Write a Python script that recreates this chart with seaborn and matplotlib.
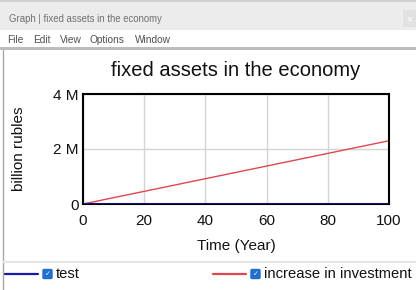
import matplotlib
matplotlib.use("Agg")
import matplotlib.pyplot as plt
import seaborn as sns
import pandas as pd
from matplotlib.patches import Rectangle, FancyBboxPatch
from matplotlib.lines import Line2D

# ---- data ----
time_years = [0, 20, 40, 60, 80, 100]
test_values = [0, 0, 0, 0, 0, 0]
increase_in_investment = [0, 0.46e6, 0.92e6, 1.38e6, 1.84e6, 2.30e6]
series_names = ["test", "increase in investment"]
series_colors = ["#1a1aa6", "#e0474c"]
x_ticks = [0, 20, 40, 60, 80, 100]
y_ticks = [0, 2e6, 4e6]
y_tick_labels = ["0", "2 M", "4 M"]
title = "fixed assets in the economy"
window_title = "Graph | fixed assets in the economy"
menu_items = ["File", "Edit", "View", "Options", "Window"]

df = pd.DataFrame({
    "Time": time_years * 2,
    "value": test_values + increase_in_investment,
    "series": [series_names[0]] * len(time_years) + [series_names[1]] * len(time_years),
})

sns.set_theme(style="white")
plt.rcParams["font.family"] = ["Liberation Sans", "DejaVu Sans"]

W, H = 416, 290
fig = plt.figure(figsize=(W / 100, H / 100), dpi=100)
fig.patch.set_facecolor("white")

def px(x, y):
    return x / W, 1 - y / H

# window chrome
fig.patches.append(Rectangle(px(0, 30), 1, 30 / H, transform=fig.transFigure,
                             facecolor="#ececec", edgecolor="none", zorder=0))
fig.patches.append(Rectangle(px(0, 2), 1, 2 / H, transform=fig.transFigure,
                             facecolor="#d0d0d0", edgecolor="none", zorder=0))
fig.patches.append(Rectangle(px(403, 27), 13 / W, 17 / H, transform=fig.transFigure,
                             facecolor="#e2e2e2", edgecolor="none", zorder=1))
fig.text(*px(409, 19), "×", fontsize=7, color="white", ha="center", va="center")
fig.text(*px(9, 19), window_title, fontsize=6.9, color="#707070", ha="left", va="center")
mx = [7, 33, 60, 90, 135]
for x, m in zip(mx, menu_items):
    fig.text(*px(x, 40), m, fontsize=7.3, color="#505050", ha="left", va="center")
# panel border
fig.patches.append(Rectangle(px(0, 50), 1, 3 / H, transform=fig.transFigure,
                             facecolor="#bdbdbd", edgecolor="none", zorder=0))
fig.lines.append(Line2D([3 / W, 3 / W], [1 - 50 / H, 0], transform=fig.transFigure,
                        color="#a8a8a8", lw=1))
fig.lines.append(Line2D([3 / W, 1], [1 - 262 / H, 1 - 262 / H], transform=fig.transFigure,
                        color="#e6e6e6", lw=1.5))

# axes
ax = fig.add_axes([83 / W, 1 - 204 / H, 306 / W, 110 / H])
sns.lineplot(data=df, x="Time", y="value", hue="series", palette=series_colors,
             hue_order=series_names, ax=ax, legend=False, linewidth=1.0)
ax.lines[0].set_linewidth(1.8)
ax.lines[0].set_zorder(3)
ax.set_xlim(0, 100)
ax.set_ylim(0, 4e6)
ax.set_xticks(x_ticks)
ax.set_yticks(y_ticks)
ax.set_yticklabels(y_tick_labels)
ax.tick_params(axis="both", length=0, labelsize=11, colors="#111111")
ax.tick_params(axis="x", pad=7)
ax.tick_params(axis="y", pad=3)
ax.grid(True, color="#d4d4d4", linewidth=1)
ax.set_axisbelow(True)
for s in ax.spines.values():
    s.set_color("black")
    s.set_linewidth(1.5)
ax.set_xlabel("Time (Year)", fontsize=11, labelpad=8, color="#111111")
ax.set_ylabel("billion rubles", fontsize=11, labelpad=20, color="#111111")
ax.set_title(title, fontsize=14.5, pad=13, color="#111111")

# legend row
ly = 274
def legend_item(x0, color, label):
    fig.lines.append(Line2D([x0 / W, (x0 + 33) / W], [1 - ly / H] * 2,
                            transform=fig.transFigure, color=color, lw=1.6))
    fig.patches.append(FancyBboxPatch(((x0 + 38) / W, 1 - (ly + 4.5) / H), 9 / W, 9 / H,
                                      boxstyle="round,pad=0,rounding_size=0.003",
                                      transform=fig.transFigure,
                                      facecolor="#1e6fd0", edgecolor="#1e6fd0"))
    fig.text((x0 + 42.5) / W, 1 - ly / H, "✓", fontsize=5, color="white",
             ha="center", va="center", family="DejaVu Sans")
    fig.text((x0 + 51) / W, 1 - ly / H, label, fontsize=10.6, color="#111111",
             ha="left", va="center")

legend_item(5, series_colors[0], series_names[0])
legend_item(213, series_colors[1], series_names[1])

fig.savefig("out.png", dpi=100)
